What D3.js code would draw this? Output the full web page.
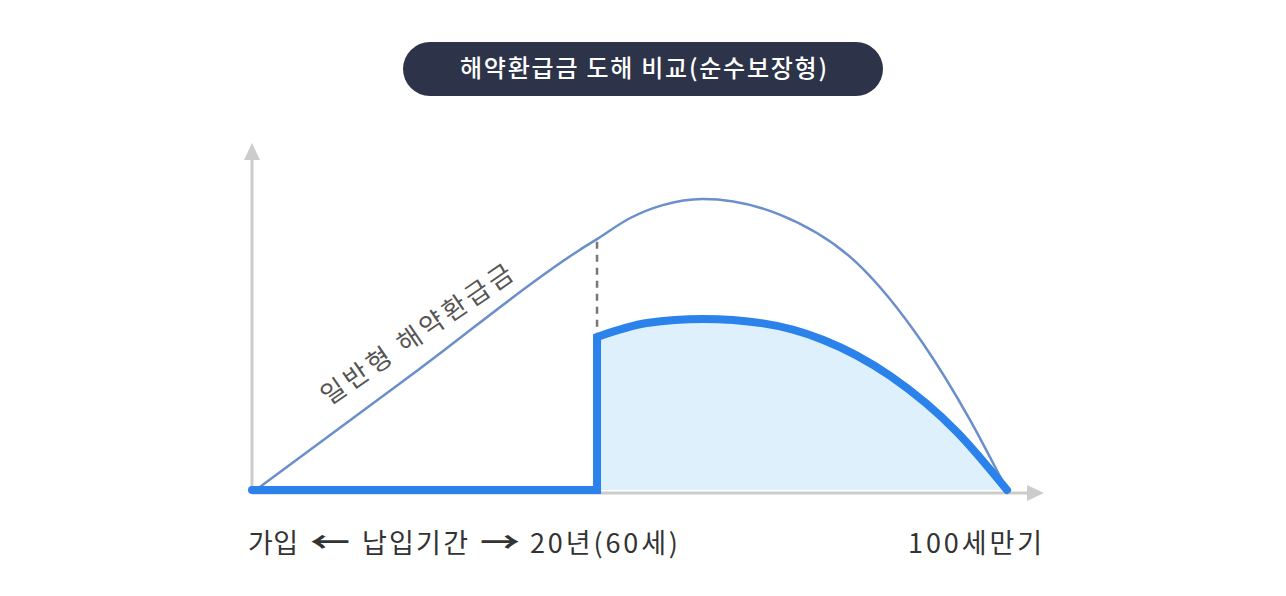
<!DOCTYPE html>
<html>
<head>
<meta charset="utf-8">
<script src="https://cdn.jsdelivr.net/npm/d3@7"></script>
<style>
  html, body { margin: 0; padding: 0; background: #fff; }
  svg { display: block; }
  text { font-family: "Noto Sans CJK KR", "Noto Sans", sans-serif; }
</style>
</head>
<body>
<div class="container"></div>
<script>
// chart text
var title = '해약환급금 도해 비교(순수보장형)'
var lineLabel = '일반형 해약환급금'
var bottomLabels = ['가입', '←', '납입기간', '→', '20년(60세)']
var endLabel = '100세만기'

// general type surrender value (x: time units, y: value units)
var generalX = [0.5, 22, 43.4, 45.7, 50.1, 54.4, 59.7, 69.9, 80.1, 88.9, 95, 100]
var generalY = [0, 35.3, 70.6, 73.8, 80.0, 83.8, 85.6, 81.0, 66.8, 43.0, 21.0, 0]

// pure protection type surrender value
var pureX = [0, 45.7, 45.7, 52.3, 59.7, 67.7, 75.6, 84.5, 93.4, 100]
var pureY = [0, 0, 45.0, 49.1, 50.3, 49.0, 44.2, 33.6, 17.0, 0]

var payEnd = 45.7

var w = 1286, h = 596

var svg = d3.select('.container')
    .append('svg')
    .attr('width', w)
    .attr('height', h)

var x = d3.scaleLinear().domain([0, 100]).range([252, 1007])
var y = d3.scaleLinear().domain([0, 100]).range([490, 150])

// title pill
svg.append('rect')
    .attr('x', 403).attr('y', 42)
    .attr('width', 480).attr('height', 54)
    .attr('rx', 27)
    .style('fill', '#2d3348')

svg.append('text')
    .attr('x', 460).attr('y', 77)
    .attr('textLength', 367)
    .attr('lengthAdjust', 'spacing')
    .style('fill', '#fff')
    .style('font-size', '24px')
    .style('font-weight', 500)
    .text(title)

// axes
var axisColor = '#cccccc'
svg.append('line')
    .attr('x1', 252).attr('y1', 493)
    .attr('x2', 252).attr('y2', 158)
    .style('stroke', axisColor).style('stroke-width', 3)
svg.append('path')
    .attr('d', 'M252,143 L244,160 L260,160 Z')
    .style('fill', axisColor)
svg.append('line')
    .attr('x1', 252).attr('y1', 493)
    .attr('x2', 1030).attr('y2', 493)
    .style('stroke', axisColor).style('stroke-width', 3)
svg.append('path')
    .attr('d', 'M1044,493 L1027,485 L1027,501 Z')
    .style('fill', axisColor)

var pure = pureX.map((d, i) => [d, pureY[i]])
var general = generalX.map((d, i) => [d, generalY[i]])

var flat = pure.slice(0, 3)
var curve = pure.slice(2)

var smooth = d3.curveMonotoneX

// filled area under pure curve after payment end
svg.append('path')
    .datum(curve)
    .attr('d', d3.area()
        .x(d => x(d[0]))
        .y0(y(0))
        .y1(d => y(d[1]))
        .curve(smooth))
    .style('fill', '#dff0fd')

// dashed guide
svg.append('line')
    .attr('x1', x(payEnd)).attr('x2', x(payEnd))
    .attr('y1', y(73)).attr('y2', y(46))
    .style('stroke', '#777')
    .style('stroke-width', 2.5)
    .style('stroke-dasharray', '7,6')

// general line
svg.append('path')
    .datum(general)
    .attr('d', d3.line()
        .x(d => x(d[0]))
        .y(d => y(d[1]))
        .curve(smooth))
    .style('fill', 'none')
    .style('stroke', '#6a8fca')
    .style('stroke-width', 2.5)

// pure line: flat + step + curve
var straight = d3.line().x(d => x(d[0])).y(d => y(d[1]))
var curved = d3.line().x(d => x(d[0])).y(d => y(d[1])).curve(smooth)
svg.append('path')
    .attr('d', straight(flat) + 'L' + curved(curve).slice(1))
    .style('fill', 'none')
    .style('stroke', '#2b82ea')
    .style('stroke-width', 8)
    .style('stroke-linejoin', 'miter')
    .style('stroke-linecap', 'round')

// rotated line label
svg.append('text')
    .attr('transform', 'translate(422,342) rotate(-34.5)')
    .attr('text-anchor', 'middle')
    .attr('textLength', 226)
    .attr('lengthAdjust', 'spacing')
    .style('fill', '#555')
    .style('font-size', '26px')
    .text(lineLabel)

// bottom labels
var bx = [248, 310, 362, 480, 530]
var bl = [50, 40, 106, 40, 148]
svg.selectAll('.blabel')
    .data(bottomLabels)
    .enter()
    .append('text')
    .attr('class', 'blabel')
    .attr('x', (d, i) => bx[i])
    .attr('y', 553)
    .attr('textLength', (d, i) => bl[i])
    .attr('lengthAdjust', (d, i) => (i % 2 == 1) ? 'spacingAndGlyphs' : 'spacing')
    .style('fill', '#333')
    .style('font-size', (d, i) => (i % 2 == 1) ? '28px' : '27px')
    .style('font-weight', (d, i) => (i % 2 == 1) ? 700 : 400)
    .text(d => d)

svg.append('text')
    .attr('x', 908).attr('y', 553)
    .attr('textLength', 134)
    .attr('lengthAdjust', 'spacing')
    .style('fill', '#333')
    .style('font-size', '27px')
    .text(endLabel)
</script>
</body>
</html>
